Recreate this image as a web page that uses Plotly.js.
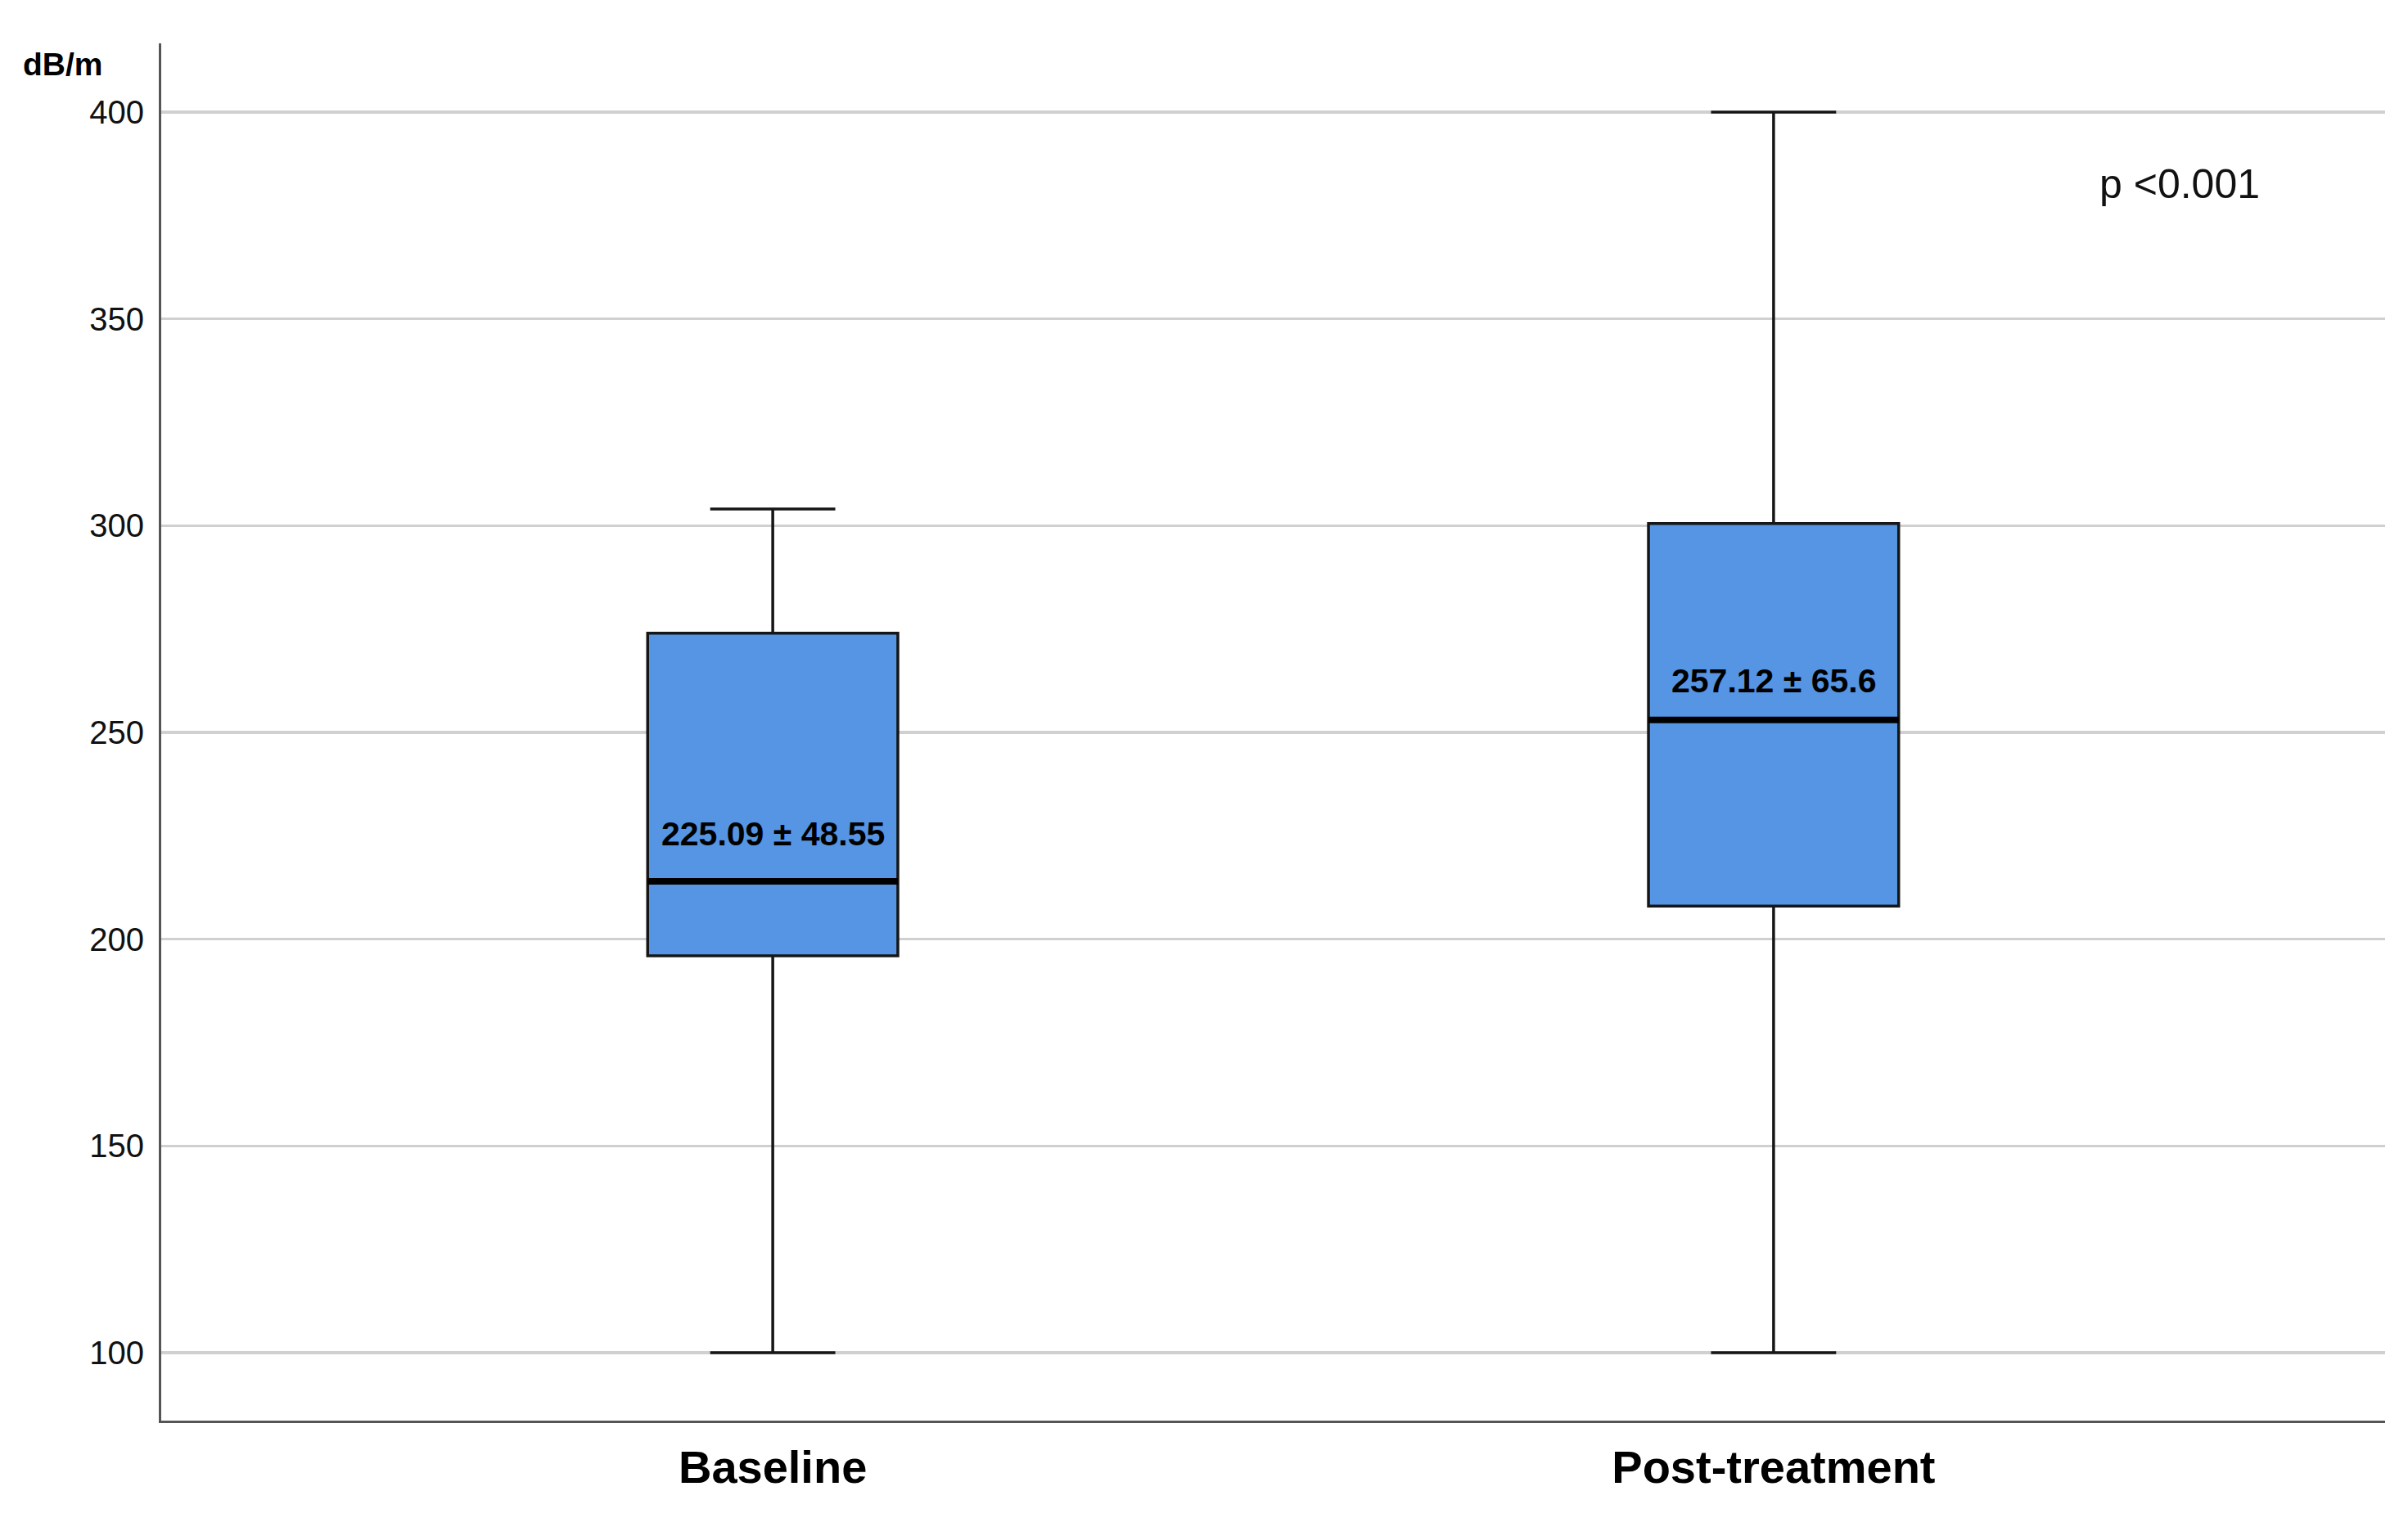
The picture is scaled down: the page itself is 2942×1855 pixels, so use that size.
<!DOCTYPE html>
<html>
<head>
<meta charset="utf-8">
<script src="https://cdn.plot.ly/plotly-3.0.1.min.js"></script>
<style>html,body{margin:0;padding:0;background:#fff;}#chart{width:2942px;height:1855px;}</style>
</head>
<body>
<div id="chart"></div>
<script>
// ---- data ----
const categories = ["Baseline", "Post-treatment"];
const lowerWhisker = [100, 100];
const q1Values = [196, 208];
const medianValues = [214, 253];
const q3Values = [274, 300.5];
const upperWhisker = [304, 400];
const meanSdLabels = ["225.09 ± 48.55", "257.12 ± 65.6"];
const labelY = [225.5, 262.5];
const yTickVals = [100, 150, 200, 250, 300, 350, 400];
const pValueText = "p <0.001";
const yUnit = "dB/m";

const sans = "'Liberation Sans', Arial, sans-serif";

const boxTrace = {
  type: "box",
  x: categories,
  q1: q1Values,
  median: medianValues,
  q3: q3Values,
  lowerfence: lowerWhisker,
  upperfence: upperWhisker,
  boxpoints: false,
  width: 0.25,
  whiskerwidth: 0.5,
  fillcolor: "#5595e3",
  line: {color: "#161616", width: 3.5},
  hoverinfo: "skip",
  showlegend: false
};

const medianTrace = {
  type: "box",
  x: categories,
  q1: medianValues,
  median: medianValues,
  q3: medianValues,
  lowerfence: medianValues,
  upperfence: medianValues,
  boxpoints: false,
  width: 0.25,
  whiskerwidth: 0,
  fillcolor: "rgba(0,0,0,0)",
  line: {color: "#000000", width: 8},
  hoverinfo: "skip",
  showlegend: false
};

const annotations = categories.map((c, i) => ({
  x: c, y: labelY[i], xref: "x", yref: "y",
  text: "<b>" + meanSdLabels[i] + "</b>",
  showarrow: false, xanchor: "center", yanchor: "middle",
  font: {family: sans, size: 41, color: "#000"}
}));
annotations.push({
  x: -0.0629, y: 0.9846, xref: "paper", yref: "paper",
  text: "<b>" + yUnit + "</b>", showarrow: false,
  xanchor: "left", yanchor: "middle",
  font: {family: sans, size: 39, color: "#000"}
});
annotations.push({
  x: 0.8708, y: 0.8978, xref: "paper", yref: "paper",
  text: pValueText, showarrow: false,
  xanchor: "left", yanchor: "middle",
  font: {family: sans, size: 50, color: "#111"}
});

const layout = {
  width: 2942, height: 1855,
  margin: {l: 197, r: 28, t: 53, b: 119, pad: 0},
  paper_bgcolor: "#ffffff",
  plot_bgcolor: "#ffffff",
  showlegend: false,
  xaxis: {
    type: "category",
    range: [-0.611, 1.611],
    showgrid: false, zeroline: false,
    showline: true, linecolor: "#555555", linewidth: 3,
    ticks: "",
    tickfont: {family: sans, size: 56, color: "#000"},
    ticklabelstandoff: 6,
    tickprefix: "<b>", ticksuffix: "</b>"
  },
  yaxis: {
    range: [83.6, 416.6],
    tickmode: "array",
    tickvals: yTickVals,
    ticktext: yTickVals.map(String),
    showgrid: true, gridcolor: "#d0d0d0", gridwidth: 3.5,
    zeroline: false,
    showline: true, linecolor: "#555555", linewidth: 3,
    ticks: "",
    ticklabelstandoff: 10,
    tickfont: {family: sans, size: 40, color: "#111"}
  },
  annotations: annotations
};

Plotly.newPlot("chart", [boxTrace, medianTrace], layout, {displayModeBar: false, staticPlot: true});
</script>
</body>
</html>
